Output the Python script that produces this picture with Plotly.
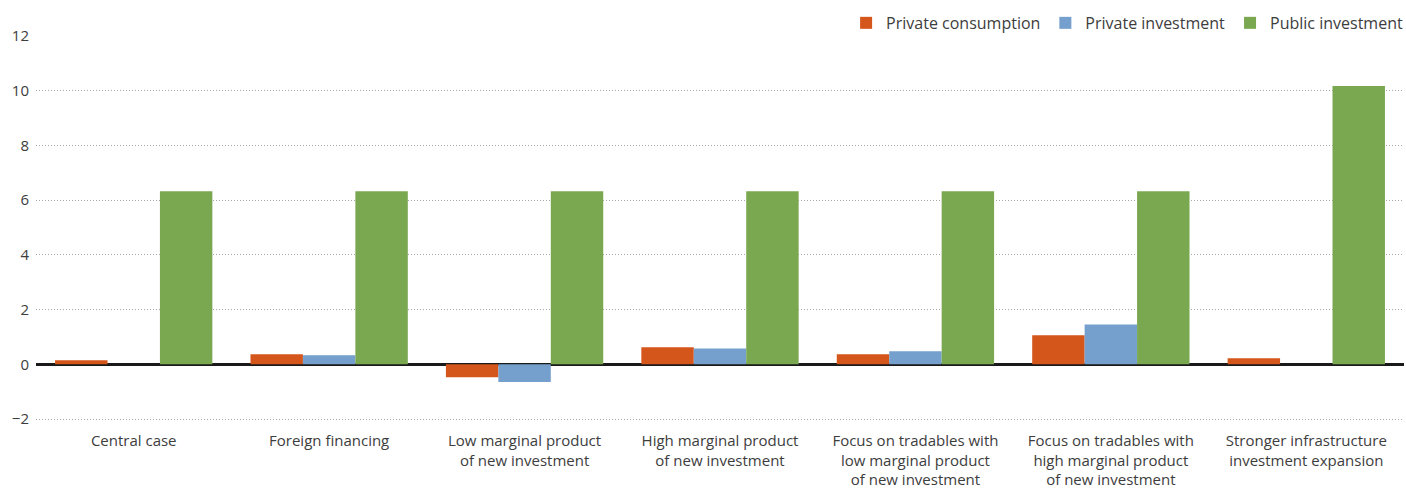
import plotly.graph_objects as go

categories = [
    "Central case",
    "Foreign financing",
    "Low marginal product<br>of new investment",
    "High marginal product<br>of new investment",
    "Focus on tradables with<br>low marginal product<br>of new investment",
    "Focus on tradables with<br>high marginal product<br>of new investment",
    "Stronger infrastructure<br>investment expansion",
]
private_consumption = [0.15, 0.37, -0.47, 0.62, 0.37, 1.06, 0.22]
private_investment = [0.0, 0.33, -0.65, 0.58, 0.48, 1.46, 0.0]
public_investment = [6.33, 6.33, 6.33, 6.33, 6.33, 6.33, 10.17]
y_ticks = [-2, 0, 2, 4, 6, 8, 10, 12]
y_tick_text = ["\u22122", "0", "2", "4", "6", "8", "10", "12"]

font_family = "'Open Sans', Lato, sans-serif"
text_color = "#3d3d3d"

fig = go.Figure()
fig.add_trace(go.Bar(x=categories, y=private_consumption, name="Private consumption",
                     marker=dict(color="#d4561b", line=dict(width=0))))
fig.add_trace(go.Bar(x=categories, y=private_investment, name="Private investment",
                     marker=dict(color="#759fcc", line=dict(width=0))))
fig.add_trace(go.Bar(x=categories, y=public_investment, name="Public investment",
                     marker=dict(color="#7aa851", line=dict(width=0))))

fig.update_layout(
    width=1406, height=488,
    margin=dict(l=36, r=2, t=36, b=58, autoexpand=False),
    paper_bgcolor="white", plot_bgcolor="white",
    barmode="group", bargap=0.195, bargroupgap=0,
    font=dict(family=font_family, color=text_color, size=15),
    legend=dict(orientation="h", x=1.003, xanchor="right", y=0.99, yanchor="bottom",
                font=dict(size=16, color=text_color),
                traceorder="normal", bgcolor="rgba(0,0,0,0)"),
    xaxis=dict(showgrid=False, ticks="", showline=False, zeroline=False,
               tickfont=dict(size=15, color=text_color)),
    yaxis=dict(range=[-2.4, 12], tickvals=y_ticks, ticktext=y_tick_text,
               showgrid=True, gridcolor="#a8a8a8", griddash="1px,2px", gridwidth=1,
               zeroline=True, zerolinecolor="#1a1a1a", zerolinewidth=3,
               ticks="", ticklabelstandoff=6, showline=False,
               tickfont=dict(size=15, color=text_color)),
)

fig.write_html(
    "out.html",
    config={"displayModeBar": False},
    post_script="document.body.style.margin='0';document.body.style.overflow='hidden';",
)
